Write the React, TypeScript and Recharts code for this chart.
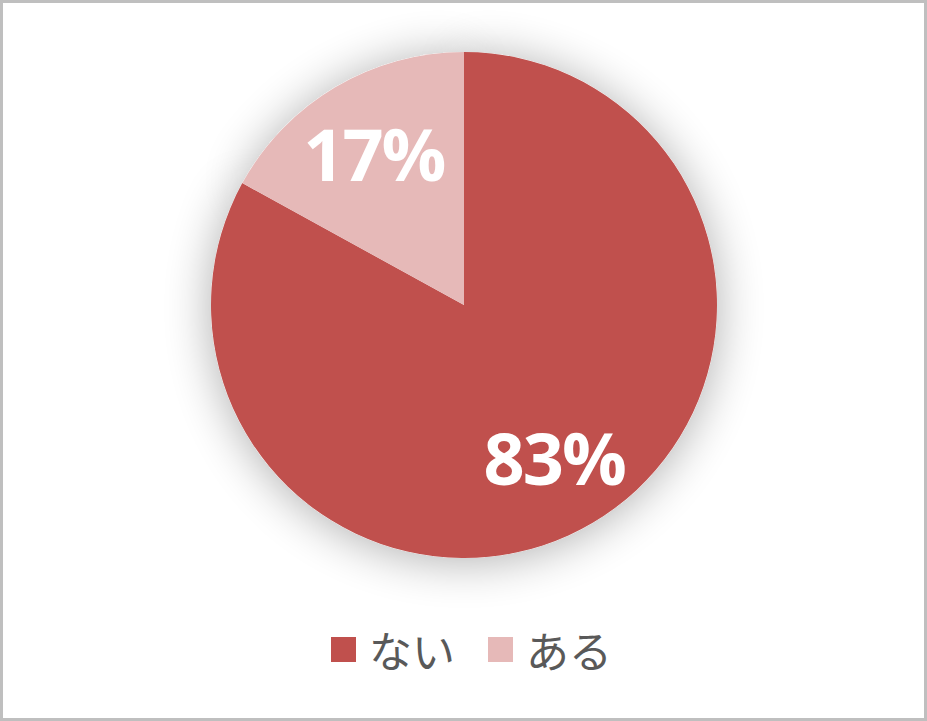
import { PieChart, Pie, Cell, Legend } from 'recharts';

const categories = ['ない', 'ある'];
const values = [83, 17];
const COLORS = ['#C0504D', '#E6B9B8'];

const data = categories.map((name, i) => ({ name, value: values[i] }));
const total = values.reduce((a, b) => a + b, 0);

const RAD = Math.PI / 180;

function renderLabel(props: any) {
  const { cx, cy, midAngle, outerRadius, value } = props;
  const r = outerRadius * 0.7;
  const x = cx + r * Math.cos(-midAngle * RAD);
  const y = cy + r * Math.sin(-midAngle * RAD);
  return (
    <text
      x={x}
      y={y}
      fill="#fff"
      textAnchor="middle"
      dominantBaseline="central"
      fontFamily="'Open Sans', sans-serif"
      fontWeight={700}
      fontSize={72}
      letterSpacing={-2}
    >
      {`${Math.round((value / total) * 100)}%`}
    </text>
  );
}

function renderLegend() {
  return (
    <div style={{ display: 'flex', justifyContent: 'center', alignItems: 'center', paddingLeft: 16 }}>
      {data.map((d, i) => (
        <div key={d.name} style={{ display: 'flex', alignItems: 'center', marginRight: i === 0 ? 33 : 0 }}>
          <span style={{ width: 25, height: 25, background: COLORS[i], display: 'inline-block', marginRight: 13 }} />
          <span style={{ fontFamily: "'Noto Sans CJK JP', sans-serif", fontSize: 43, color: '#595959', lineHeight: '50px' }}>
            {d.name}
          </span>
        </div>
      ))}
    </div>
  );
}

export default function App() {
  return (
    <div
      style={{
        position: 'absolute',
        left: 0,
        top: 0,
        width: 927,
        height: 721,
        border: '3px solid #BFBFBF',
        boxSizing: 'border-box',
        background: '#fff',
      }}
    >
      <div style={{ position: 'absolute', left: -3, top: -3 }}>
        <PieChart width={927} height={721} margin={{ top: 0, right: 0, bottom: 0, left: 0 }}>
          <defs>
            <filter id="pieShadow" x="-40%" y="-40%" width="180%" height="180%">
              <feGaussianBlur in="SourceAlpha" stdDeviation="24" />
              <feOffset dx="0" dy="3" result="blur" />
              <feComponentTransfer>
                <feFuncA type="linear" slope="0.32" />
              </feComponentTransfer>
              <feMerge>
                <feMergeNode />
                <feMergeNode in="SourceGraphic" />
              </feMerge>
            </filter>
          </defs>
          {/* shadow copy behind the main pie */}
          <Pie
            data={data}
            dataKey="value"
            cx={464}
            cy={305}
            outerRadius={253}
            startAngle={90}
            endAngle={-270}
            stroke="none"
            fill="#ffffff"
            legendType="none"
            isAnimationActive={false}
            style={{ filter: 'url(#pieShadow)' }}
          />
          <Pie
            data={data}
            dataKey="value"
            nameKey="name"
            cx={464}
            cy={305}
            outerRadius={253}
            startAngle={90}
            endAngle={-270}
            stroke="none"
            label={renderLabel}
            labelLine={false}
            isAnimationActive={false}
          >
            {data.map((_, i) => (
              <Cell key={i} fill={COLORS[i]} />
            ))}
          </Pie>
          <Legend
            content={renderLegend}
            verticalAlign="bottom"
            wrapperStyle={{ top: 624, left: 0, width: 927, bottom: 'auto' }}
          />
        </PieChart>
      </div>
    </div>
  );
}
